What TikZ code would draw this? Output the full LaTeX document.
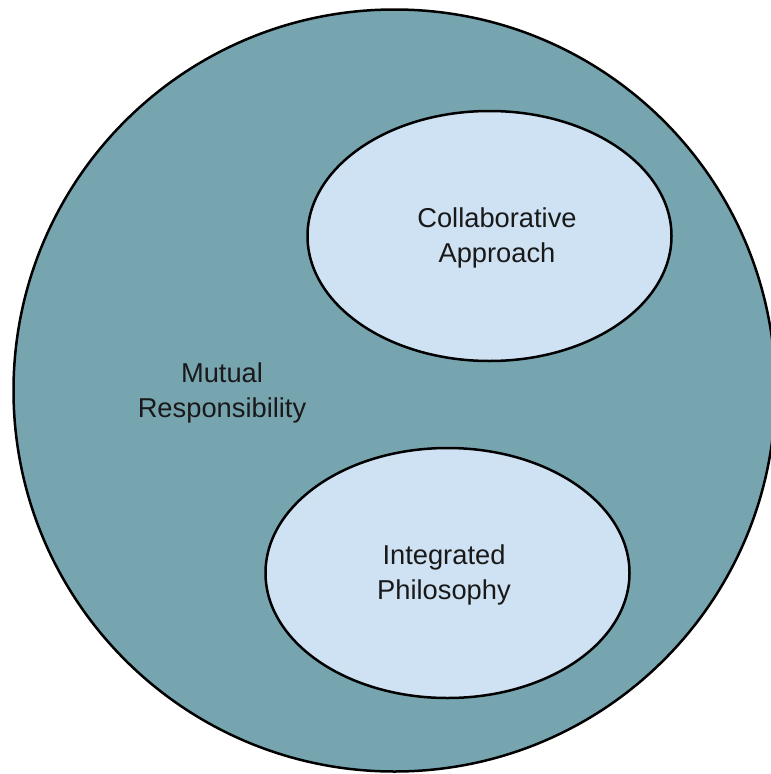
\documentclass[tikz,border=0pt]{standalone}
\usepackage{fontspec}
\setmainfont{Liberation Sans}
\usepackage{xcolor}
\usetikzlibrary{shapes.geometric, positioning}
\definecolor{outerfill}{HTML}{76A5AF}
\definecolor{innerfill}{HTML}{CFE2F3}
\tikzset{
    outer/.style={
        circle,
        line width=2.5pt,
        draw=black,
        fill=outerfill,
        inner sep=0pt,
        minimum size=762pt,
    },
    bubble/.style={
        ellipse,
        line width=2.5pt,
        draw=black,
        fill=innerfill,
        inner sep=0pt,
        minimum width=364pt,
        minimum height=250pt,
    },
    caption/.style={
        align=center,
        font=\fontsize{27.3}{35}\selectfont,
        text=black!90,
    },
}

\begin{document}
\begin{tikzpicture}[x=1pt, y=-1pt]
      \clip (0,0) rectangle (771,774);

      \node[outer] (whole) at (394.5,390.5) {};

      \node[bubble] (collab) at (489.5,236) {};
      \node[bubble] (integ) at (447.5,573) {};

      \node[caption] (mutual) at (222,393) {Mutual\\Responsibility};
      \node[caption] (collabtext) at (497,238) {Collaborative\\Approach};
      \node[caption] (integtext) at (444,575) {Integrated\\Philosophy};

    \end{tikzpicture}
\end{document}
